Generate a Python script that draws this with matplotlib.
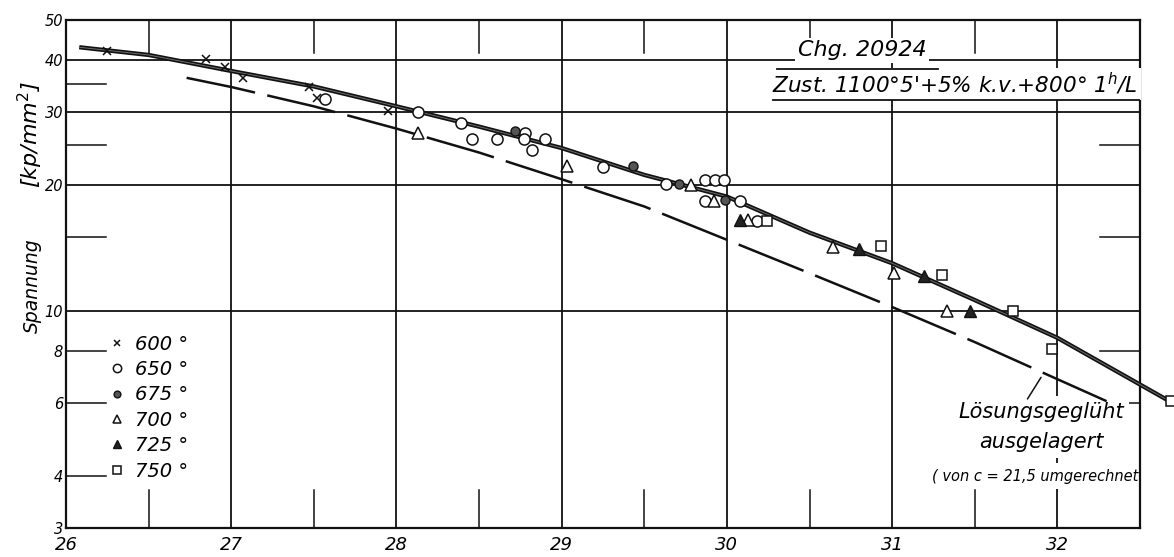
import matplotlib.pyplot as plt

# Messpunkte je Auslagerungstemperatur (x = Larson-Miller-Parameter, y = Spannung)
x600 = [26.25, 26.85, 26.96, 27.07, 27.47, 27.52, 27.95]
y600 = [42.2, 40.2, 38.5, 36.2, 34.5, 32.4, 30.2]

x650 = [27.57, 28.13, 28.39, 28.46, 28.61, 28.78, 28.77, 28.82, 28.90, 29.25,
        29.63, 29.87, 29.93, 29.98, 29.87, 30.08, 30.18]
y650 = [32.2, 30.1, 28.3, 25.9, 25.9, 26.7, 25.9, 24.4, 25.8, 22.1,
        20.2, 20.6, 20.6, 20.6, 18.3, 18.3, 16.4]

x675 = [28.72, 29.43, 29.71, 29.99]
y675 = [27.0, 22.3, 20.2, 18.5]

x700 = [28.13, 29.03, 29.78, 29.92, 30.13, 30.64, 31.01, 31.33]
y700 = [26.7, 22.3, 20.1, 18.4, 16.5, 14.2, 12.3, 10.0]

x725 = [30.08, 30.80, 31.19, 31.47]
y725 = [16.5, 14.1, 12.1, 10.0]

x750 = [30.24, 30.93, 31.30, 31.73, 31.97, 32.69]
y750 = [16.4, 14.3, 12.2, 10.0, 8.1, 6.05]

# Ausgleichskurve
x_fit = [26.08, 26.5, 27.0, 27.5, 28.0, 28.5, 29.0, 29.5, 30.0, 30.5, 31.0, 31.5, 32.0, 32.68]
y_fit = [43.0, 41.2, 37.7, 34.6, 31.0, 27.7, 24.6, 21.2, 18.8, 15.4, 13.0, 10.6, 8.6, 6.05]

# loesungsgegluehte Vergleichskurve
x_lg = [26.73, 27.0, 27.5, 28.0, 28.5, 29.0, 29.5, 30.0, 30.5, 31.0, 31.5, 32.0, 32.3]
y_lg = [36.3, 34.5, 31.0, 27.4, 24.0, 20.7, 17.8, 14.8, 12.3, 10.2, 8.4, 6.84, 6.05]

xticks = [26, 27, 28, 29, 30, 31, 32]
yticks = [3, 4, 6, 8, 10, 20, 30, 40, 50]
ygrid = [10, 20, 30, 40]
yshort = [4, 6, 8, 15, 25, 35]
xshort = [26.5, 27.5, 28.5, 29.5, 30.5, 31.5]

fig = plt.figure(figsize=(11.74, 5.57), dpi=100)
ax = fig.add_axes([66 / 1174, 1 - 528 / 557, 1074 / 1174, 508 / 557])
ax.set_yscale('log')
ax.set_xlim(26, 32.5)
ax.set_ylim(3, 50)

ink = '#111111'
for v in xticks[1:]:
    ax.axvline(v, color=ink, lw=1.3, zorder=1)
for v in ygrid:
    ax.axhline(v, color=ink, lw=1.3, zorder=1)
for v in yshort:
    ax.axhline(v, xmin=0, xmax=0.037, color=ink, lw=1.1, zorder=1)
    ax.axhline(v, xmin=0.963, xmax=1, color=ink, lw=1.1, zorder=1)
for v in xshort:
    ax.axvline(v, ymin=0, ymax=0.075, color=ink, lw=1.1, zorder=1)
    ax.axvline(v, ymin=0.935, ymax=1, color=ink, lw=1.1, zorder=1)

# Kurven
ax.plot(x_fit, y_fit, color='#111111', lw=3.1, zorder=3, clip_on=False, solid_capstyle='butt')
ax.plot(x_fit, y_fit, color='#6e6e6e', lw=0.7, zorder=3, clip_on=False)
ax.plot(x_lg, y_lg, color=ink, lw=1.8, dashes=(28, 5), zorder=3)

mk = dict(linestyle='none', zorder=4, clip_on=False)
ax.plot(x600, y600, marker='x', ms=6, mew=1.1, color=ink, label='600 °', **mk)
ax.plot(x650, y650, marker='o', ms=8, mew=1.1, mfc='white', mec=ink, label='650 °', **mk)
ax.plot(x675, y675, marker='o', ms=6.5, mew=1.0, mfc='#555555', mec=ink, label='675 °', **mk)
ax.plot(x700, y700, marker='^', ms=8.5, mew=1.1, mfc='white', mec=ink, label='700 °', **mk)
ax.plot(x725, y725, marker='^', ms=8, mew=1.0, mfc='#222222', mec=ink, label='725 °', **mk)
ax.plot(x750, y750, marker='s', ms=7.5, mew=1.1, mfc='white', mec=ink, label='750 °', **mk)

ax.set_xticks(xticks)
ax.set_xticklabels([str(t) for t in xticks], fontsize=13, style='italic')
ax.set_yticks(yticks)
ax.set_yticklabels([str(t) for t in yticks], fontsize=10.5, style='italic')
ax.minorticks_off()
ax.tick_params(axis='x', length=0, pad=6)
ax.tick_params(axis='y', length=0, pad=2)
for s in ax.spines.values():
    s.set_linewidth(1.6)
    s.set_color(ink)

ax.legend(loc='upper left', bbox_to_anchor=(0.03, 0.40), frameon=False,
          handlelength=0.9, handletextpad=0.5, labelspacing=0.33,
          borderpad=0, markerscale=0.75, prop={'style': 'italic', 'size': 14})

# Beschriftung
tb = dict(facecolor='white', edgecolor='none', pad=2)
ax.text(0.741, 0.94, 'Chg. 20924', transform=ax.transAxes, fontsize=16, style='italic',
        ha='center', va='center', bbox=tb, zorder=5)
ax.plot([0.662, 0.812], [0.903, 0.903], transform=ax.transAxes, color=ink, lw=1.3, zorder=6)
ax.text(0.998, 0.874, "Zust. 1100°5'+5% k.v.+800° 1$^h$/L", transform=ax.transAxes,
        fontsize=15.5, style='italic', ha='right', va='center', bbox=tb, zorder=5)
ax.plot([0.658, 1.0], [0.842, 0.842], transform=ax.transAxes, color=ink, lw=1.3, zorder=6)

nb = dict(facecolor='white', edgecolor='none', pad=4)
ax.text(31.90, 5.7, 'Lösungsgeglüht', fontsize=15, style='italic',
        ha='center', va='center', bbox=nb, zorder=2)
ax.text(31.90, 4.83, 'ausgelagert', fontsize=15, style='italic',
        ha='center', va='center', bbox=nb, zorder=2)
ax.text(32.49, 4.0, '( von c = 21,5 umgerechnet', fontsize=10.5, style='italic',
        ha='right', va='center', bbox=nb, zorder=2)
ax.annotate('', xy=(31.91, 7.0), xytext=(31.81, 6.05),
            arrowprops=dict(arrowstyle='-', color=ink, lw=1.1))

fig.text(32 / 1174, 1 - 286 / 557, 'Spannung', rotation=90, fontsize=13.5, style='italic',
         ha='center', va='center')
fig.text(30 / 1174, 1 - 135 / 557, '[kp/mm$^2$]', rotation=90, fontsize=16, style='italic',
         ha='center', va='center')

fig.savefig('out.png', dpi=100, facecolor='white')
